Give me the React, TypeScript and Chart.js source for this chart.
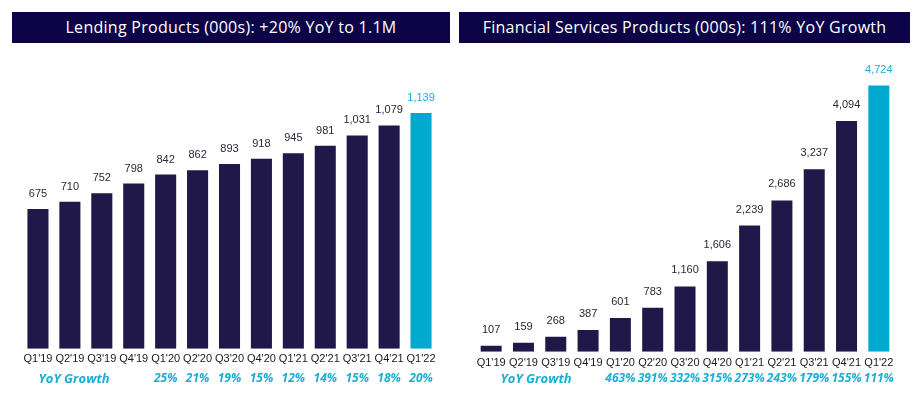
import React, { useEffect, useRef } from "react";
import { Chart, registerables } from "chart.js";

Chart.register(...registerables);

const quarters = ["Q1'19", "Q2'19", "Q3'19", "Q4'19", "Q1'20", "Q2'20", "Q3'20", "Q4'20", "Q1'21", "Q2'21", "Q3'21", "Q4'21", "Q1'22"];
const lendingValues = [675, 710, 752, 798, 842, 862, 893, 918, 945, 981, 1031, 1079, 1139];
const lendingGrowth = ["", "", "", "", "25%", "21%", "19%", "15%", "12%", "14%", "15%", "18%", "20%"];
const fsValues = [107, 159, 268, 387, 601, 783, 1160, 1606, 2239, 2686, 3237, 4094, 4724];
const fsGrowth = ["", "", "", "", "463%", "391%", "332%", "315%", "273%", "243%", "179%", "155%", "111%"];
const growthTitle = "YoY Growth";
const lendingTitle = "Lending Products (000s): +20% YoY to 1.1M";
const fsTitle = "Financial Services Products (000s): 111% YoY Growth";

const DARK = "#201848";
const CYAN = "#00aacf";
const NAVY = "#0c0447";

type Cfg = {
  values: number[];
  growth: string[];
  yMax: number;
  width: number;
  padding: { left: number; right: number; top: number; bottom: number };
  tickPad: number;
  barPct: number;
  labelGap: number;
  growthY: number;
  growthTitleX: number;
};

const valueLabelPlugin = {
  id: "valueLabels",
  afterDatasetsDraw(chart: any, _args: any, opts: any) {
    const ctx = chart.ctx;
    const meta = chart.getDatasetMeta(0);
    const data = chart.data.datasets[0].data as number[];
    ctx.save();
    ctx.font = "11px 'Liberation Sans', Arial, sans-serif";
    ctx.textAlign = "center";
    ctx.textBaseline = "alphabetic";
    meta.data.forEach((bar: any, i: number) => {
      ctx.fillStyle = i === data.length - 1 ? "#1aaed4" : "#2a2838";
      ctx.fillText(data[i].toLocaleString("en-US"), bar.x, bar.y - opts.gap);
    });
    ctx.restore();
  },
};

const growthRowPlugin = {
  id: "growthRow",
  afterDraw(chart: any, _args: any, opts: any) {
    const ctx = chart.ctx;
    const xs = chart.scales.x;
    ctx.save();
    ctx.fillStyle = "#1aaed4";
    ctx.textAlign = "center";
    ctx.textBaseline = "middle";
    ctx.font = "italic bold 12px 'Open Sans', sans-serif";
    (opts.labels as string[]).forEach((g: string, i: number) => {
      if (g) ctx.fillText(g, xs.getPixelForValue(i), opts.y);
    });
    ctx.font = "italic bold 13px 'Open Sans', sans-serif";
    ctx.fillText(opts.title, opts.titleX, opts.y);
    ctx.restore();
  },
};

function BarPanel({ cfg }: { cfg: Cfg }) {
  const ref = useRef<HTMLCanvasElement>(null);
  useEffect(() => {
    if (!ref.current) return;
    const last = cfg.values.length - 1;
    const chart = new Chart(ref.current, {
      type: "bar",
      data: {
        labels: quarters,
        datasets: [
          {
            data: cfg.values,
            backgroundColor: (c: any) => (c.dataIndex === last ? CYAN : DARK),
            categoryPercentage: 1,
            barPercentage: cfg.barPct,
            borderWidth: 0,
          },
        ],
      },
      options: {
        animation: false,
        responsive: false,
        maintainAspectRatio: false,
        layout: { padding: cfg.padding },
        plugins: {
          legend: { display: false },
          tooltip: { enabled: false },
          valueLabels: { gap: cfg.labelGap },
          growthRow: { labels: cfg.growth, y: cfg.growthY, title: growthTitle, titleX: cfg.growthTitleX },
        } as any,
        scales: {
          x: {
            grid: { display: false, drawTicks: false },
            border: { display: false },
            ticks: {
              color: "#1a1a1a",
              padding: cfg.tickPad,
              autoSkip: false,
              maxRotation: 0,
              font: { size: 11, family: "'Liberation Sans', Arial, sans-serif" },
            },
          },
          y: { display: false, min: 0, max: cfg.yMax },
        },
      },
      plugins: [valueLabelPlugin, growthRowPlugin],
    });
    return () => chart.destroy();
  }, [cfg]);
  return <canvas ref={ref} width={cfg.width} height={347} />;
}

const leftCfg: Cfg = {
  values: lendingValues,
  growth: lendingGrowth,
  yMax: 1400,
  width: 460,
  padding: { left: 22, right: 23, top: 9, bottom: 27 },
  tickPad: 4,
  barPct: 0.66,
  labelGap: 12,
  growthY: 329,
  growthTitleX: 74,
};

const rightCfg: Cfg = {
  values: fsValues,
  growth: fsGrowth,
  yMax: 5000,
  width: 462,
  padding: { left: 15, right: 27, top: 20, bottom: 22 },
  tickPad: 5,
  barPct: 0.65,
  labelGap: 13,
  growthY: 329,
  growthTitleX: 76,
};

const titleStyle: React.CSSProperties = {
  position: "absolute",
  top: 12,
  height: 31,
  background: NAVY,
  color: "#ffffff",
  fontFamily: "'Open Sans', sans-serif",
  fontSize: 16,
  letterSpacing: "0.27px",
  lineHeight: "31px",
  textAlign: "center",
  whiteSpace: "nowrap",
};

export default function App() {
  return (
    <div style={{ position: "absolute", left: 0, top: 0, width: 922, height: 397, background: "#fff", overflow: "hidden" }}>
      <div style={{ ...titleStyle, left: 12, width: 438 }}>{lendingTitle}</div>
      <div style={{ ...titleStyle, left: 459, width: 451 }}>{fsTitle}</div>
      <div style={{ position: "absolute", left: 0, top: 50 }}>
        <BarPanel cfg={leftCfg} />
      </div>
      <div style={{ position: "absolute", left: 460, top: 50 }}>
        <BarPanel cfg={rightCfg} />
      </div>
    </div>
  );
}
